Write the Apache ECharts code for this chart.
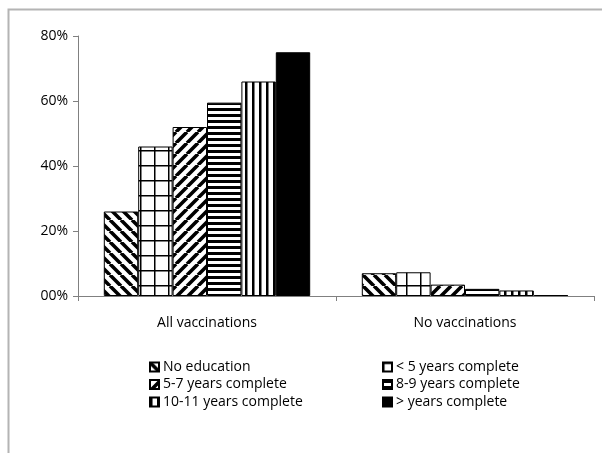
<!DOCTYPE html>
<html>
<head>
<meta charset="utf-8">
<script src="https://cdn.jsdelivr.net/npm/echarts@6/dist/echarts.min.js"></script>
<style>
  html, body { margin: 0; padding: 0; background: #fff; }
  #chart { width: 602px; height: 453px; }
</style>
</head>
<body>
<div id="chart"></div>
<script>
// Vaccination status by mother's education (percent of children)
const categories = ['All vaccinations', 'No vaccinations'];
const seriesNames = [
  'No education',
  '< 5 years complete',
  '5-7 years complete',
  '8-9 years complete',
  '10-11 years complete',
  '> years complete'
];
const noEducation   = [26, 7.0];
const under5Years   = [46, 7.3];
const years5to7     = [52, 3.5];
const years8to9     = [59.5, 2.2];
const years10to11   = [66, 1.7];
const overYears     = [75, 0.3];
const seriesValues = [noEducation, under5Years, years5to7, years8to9, years10to11, overYears];
const yTicks = [0, 20, 40, 60, 80];

// Hatch fills drawn onto small tiles and used as repeating patterns
function tile(w, h, draw) {
  const c = document.createElement('canvas');
  c.width = w; c.height = h;
  const g = c.getContext('2d');
  g.fillStyle = '#fff';
  g.fillRect(0, 0, w, h);
  g.fillStyle = '#000';
  g.strokeStyle = '#000';
  draw(g, w, h);
  return { image: c, repeat: 'repeat' };
}
function diagonal(s, lw, down) {
  return tile(s, s, (g) => {
    g.lineWidth = lw;
    g.beginPath();
    for (let k = -1; k <= 1; k++) {
      if (down) { g.moveTo(k * s, 0); g.lineTo(k * s + s, s); }
      else { g.moveTo(k * s, s); g.lineTo(k * s + s, 0); }
    }
    g.stroke();
  });
}
const fills = [
  diagonal(11, 3.6, true),
  tile(14, 15, (g, w, h) => { g.fillRect(0, 0, w, 1.5); g.fillRect(0, 0, 1.5, h); }),
  diagonal(11, 3.6, false),
  tile(6, 6, (g, w) => { g.fillRect(0, 0, w, 3); }),
  tile(7, 7, (g, w, h) => { g.fillRect(0, 0, 2.5, h); }),
  '#000'
];

const font = '"Open Sans", sans-serif';
const textColor = '#000';
const chart = echarts.init(document.getElementById('chart'), null, { renderer: 'canvas' });

const legendBase = {
  orient: 'vertical', top: 359, padding: 0,
  icon: 'rect', itemWidth: 9, itemHeight: 9, itemGap: 1.5,
  textStyle: { fontFamily: font, fontSize: 14, color: textColor, lineHeight: 16, padding: [0, 0, 0, -1] }
};

chart.setOption({
  animation: false,
  backgroundColor: '#fff',
  graphic: [{
    type: 'rect',
    shape: { x: 8.5, y: 9.5, width: 700, height: 600 },
    style: { fill: 'none', stroke: '#b4b4b4', lineWidth: 2 },
    silent: true
  }],
  grid: { left: 78, right: 8, top: 36, bottom: 157, containLabel: false },
  legend: [
    Object.assign({}, legendBase, {
      data: [seriesNames[0], seriesNames[2], seriesNames[4]], left: 149
    }),
    Object.assign({}, legendBase, {
      data: [seriesNames[1], seriesNames[3], seriesNames[5]], left: 382
    })
  ],
  xAxis: {
    type: 'category',
    data: categories,
    axisLine: { lineStyle: { color: '#808080', width: 1 } },
    axisTick: { show: true, length: 5, lineStyle: { color: '#808080' } },
    axisLabel: { margin: 20, fontFamily: font, fontSize: 14, color: textColor }
  },
  yAxis: {
    type: 'value',
    min: yTicks[0], max: yTicks[yTicks.length - 1], interval: 20,
    splitLine: { show: false },
    axisLine: { show: true, lineStyle: { color: '#808080', width: 1 } },
    axisTick: { show: true, length: 5, lineStyle: { color: '#808080' } },
    axisLabel: {
      margin: 10, fontFamily: font, fontSize: 14, color: textColor,
      formatter: (v) => String(v).padStart(2, '0') + '%'
    }
  },
  series: seriesNames.map((name, i) => ({
    name,
    type: 'bar',
    data: seriesValues[i],
    barGap: '0%',
    barCategoryGap: '20%',
    itemStyle: { color: fills[i], borderColor: '#000', borderWidth: 1 }
  }))
});
</script>
</body>
</html>
